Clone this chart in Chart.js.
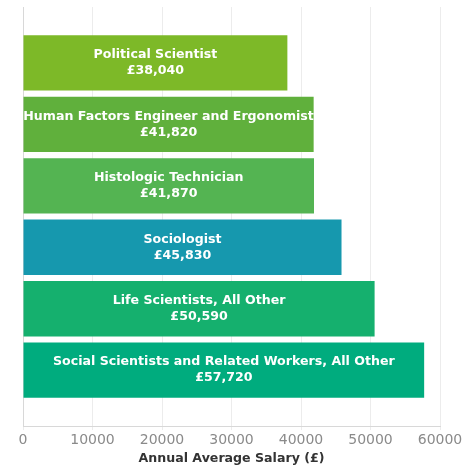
<!DOCTYPE html>
<html>
<head>
<meta charset="utf-8">
<script src="https://cdn.jsdelivr.net/npm/chart.js@4"></script>
<style>
  body { margin: 0; background: #fff; }
</style>
</head>
<body>
<canvas id="myChart" width="474" height="474"></canvas>
<script>
// occupations and their average salary
var occupations = ['Political Scientist', 'Human Factors Engineer and Ergonomist', 'Histologic Technician',
    'Sociologist', 'Life Scientists, All Other', 'Social Scientists and Related Workers, All Other'];
var salaries = [38040, 41820, 41870, 45830, 50590, 57720];
var barColors = ['#7db928', '#60b03c', '#54b452', '#1698ae', '#15b06e', '#00ac7e'];
var xTicks = [0, 10000, 20000, 30000, 40000, 50000, 60000];

var datasets = occupations.map(function(name, i){
    return {
        label: name,
        data: [salaries[i]],
        backgroundColor: barColors[i],
        barPercentage: 0.9,
        categoryPercentage: 0.88
    };
});

// white labels in the middle of each bar
var barLabels = {
    id: 'barLabels',
    afterDatasetsDraw: function(chart){
        var ctx = chart.ctx;
        ctx.save();
        ctx.fillStyle = '#fff';
        ctx.font = 'bold 12.6px "DejaVu Sans"';
        ctx.textAlign = 'center';
        ctx.textBaseline = 'middle';
        chart.data.datasets.forEach(function(ds, i){
            var bar = chart.getDatasetMeta(i).data[0];
            var cx = (bar.x + bar.base) / 2;
            ctx.fillText(ds.label, cx, bar.y - 8);
            ctx.fillText('£' + ds.data[0].toLocaleString('en-GB'), cx, bar.y + 8);
        });
        ctx.restore();
    }
};

var chart = new Chart(document.getElementById('myChart').getContext('2d'), {
    type: 'bar',
    data: { labels: [''], datasets: datasets },
    options: {
        indexAxis: 'y',
        responsive: false,
        animation: false,
        layout: { padding: { top: 7, left: 15, right: 34, bottom: 8 } },
        plugins: { legend: { display: false }, tooltip: { enabled: false } },
        scales: {
            x: {
                min: 0,
                max: 60000,
                afterBuildTicks: function(axis){
                    axis.ticks = xTicks.map(function(v){ return { value: v }; });
                },
                grid: { color: '#ececec', drawTicks: true, tickLength: 4 },
                border: { color: '#d8d8d8' },
                ticks: {
                    color: '#8a8a8a',
                    font: { family: 'DejaVu Sans', size: 14 },
                    padding: 2,
                    callback: function(v){ return String(v); }
                },
                title: {
                    display: true,
                    text: 'Annual Average Salary (£)',
                    color: '#333',
                    font: { family: 'DejaVu Sans', size: 12.6, weight: 'bold' },
                    padding: { top: 0, bottom: 0 }
                }
            },
            y: {
                display: true,
                grid: { display: false },
                border: { color: '#d8d8d8' },
                ticks: { display: false }
            }
        }
    },
    plugins: [barLabels]
});
</script>
</body>
</html>
